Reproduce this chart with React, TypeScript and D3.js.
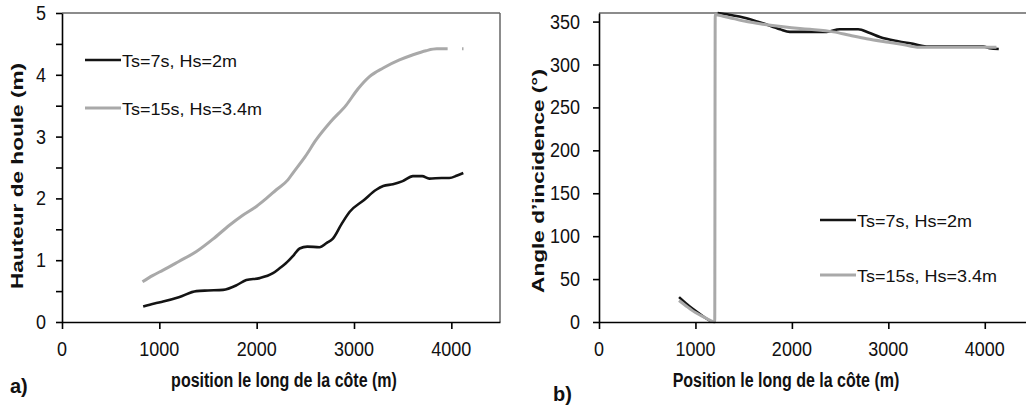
import React, { useEffect, useRef } from 'react';
import * as d3 from 'd3';

const W = 1026;
const H = 407;
const FONT = '"Liberation Sans", Arial, Helvetica, sans-serif';

const posTicks = [0, 1000, 2000, 3000, 4000];
const heightTicks = [0, 0.5, 1, 1.5, 2, 2.5, 3, 3.5, 4, 4.5, 5];
const heightLabels = [0, 1, 2, 3, 4, 5];
const angleTicks = [0, 50, 100, 150, 200, 250, 300, 350];

const legendNames = ['Ts=7s, Hs=2m', 'Ts=15s, Hs=3.4m'];

// a) hauteur de houle (m) le long de la côte
const height7s: [number, number | null][] = [
  [834, 0.25], [950, 0.3], [1039, 0.33], [1200, 0.4], [1381, 0.5], [1500, 0.51], [1655, 0.52],
  [1800, 0.6], [1894, 0.68], [2031, 0.71], [2167, 0.79], [2236, 0.87], [2300, 0.95], [2380, 1.08],
  [2441, 1.19], [2520, 1.22], [2646, 1.21], [2720, 1.28], [2783, 1.35], [2870, 1.58], [2954, 1.78],
  [3100, 1.97], [3228, 2.14], [3300, 2.2], [3400, 2.23], [3500, 2.28], [3605, 2.36], [3700, 2.36],
  [3774, 2.32], [3900, 2.33], [3979, 2.33], [4060, 2.37], [4123, 2.41],
];
const height15s: [number, number | null][] = [
  [827, 0.65], [930, 0.75], [1039, 0.84], [1200, 0.98], [1381, 1.14], [1550, 1.34], [1723, 1.57],
  [1850, 1.72], [1997, 1.87], [2100, 2.0], [2202, 2.14], [2321, 2.3], [2372, 2.41], [2500, 2.68],
  [2612, 2.95], [2760, 3.24], [2920, 3.51], [3040, 3.77], [3159, 3.97], [3300, 4.11], [3467, 4.24],
  [3600, 4.32], [3740, 4.39], [3850, 4.42], [3962, 4.42], [4040, null], [4110, 4.42], [4125, 4.42],
];

// b) angle d'incidence (°)
const angle7s: [number, number | null][] = [
  [830, 29], [900, 22], [1000, 13], [1100, 5], [1170, 0], [1200, null],
  [1230, 360], [1350, 358], [1530, 354], [1700, 348], [1876, 341], [1979, 338], [2083, 338],
  [2360, 338], [2497, 341], [2687, 341], [2800, 337], [2912, 332], [3100, 327], [3257, 324],
  [3396, 321], [3983, 321], [4052, 319], [4145, 318],
];
const angle15s: [number, number | null][] = [
  [830, 25], [900, 19], [1000, 11], [1100, 5], [1200, 0], [1205, 358], [1300, 356], [1530, 350],
  [1700, 347], [1910, 344], [2083, 342], [2187, 341], [2430, 338], [2600, 334], [2775, 330],
  [3000, 326], [3119, 324], [3326, 320], [3983, 320], [4121, 320],
];

const addText = (g, x, y, str, o: any = {}) =>
  g.append('text')
    .attr('transform', o.rotate
      ? `translate(${x},${y}) rotate(-90) scale(${o.s || 1},1)`
      : `translate(${x},${y}) scale(1,${o.s || 1})`)
    .attr('text-anchor', o.anchor || 'start')
    .attr('font-family', FONT)
    .attr('font-size', o.size || 18)
    .attr('font-weight', o.bold ? 'bold' : 'normal')
    .attr('fill', '#111')
    .text(str);

const drawPanel = (svg, p) => {
  const x = d3.scaleLinear().domain([0, 4500]).range([p.left, p.right]);
  const y = d3.scaleLinear().domain([0, p.yMax]).range([322, 13]);
  const g = svg.append('g');

  g.append('line').attr('x1', p.left).attr('x2', x(4500)).attr('y1', 13).attr('y2', 13)
    .attr('stroke', '#666').attr('stroke-width', 1.5);
  g.append('line').attr('x1', x(4500)).attr('x2', x(4500)).attr('y1', 13).attr('y2', 322)
    .attr('stroke', '#666').attr('stroke-width', 1.5);

  const line = d3.line<[number, number | null]>()
    .defined((d) => d[1] != null)
    .x((d) => x(d[0]))
    .y((d) => y(d[1] as number))
    .curve(d3.curveMonotoneX);

  p.series.forEach((s) => {
    g.append('path').datum(s.data).attr('d', line).attr('fill', 'none')
      .attr('stroke', s.color).attr('stroke-width', s.width).attr('stroke-linejoin', 'round');
  });

  const xa = g.append('g').attr('transform', 'translate(0,322)')
    .call(d3.axisBottom(x).tickValues(posTicks).tickSize(7).tickSizeOuter(0).tickFormat(() => ''));
  const ya = g.append('g').attr('transform', `translate(${p.left},0)`)
    .call(d3.axisLeft(y).tickValues(p.yTicks).tickSize(6).tickSizeOuter(0).tickFormat(() => ''));
  [xa, ya].forEach((a) => {
    a.select('.domain').attr('stroke', '#000').attr('stroke-width', 1.6);
    a.selectAll('.tick line').attr('stroke', '#000').attr('stroke-width', 1.6);
  });

  posTicks.forEach((v) => addText(g, x(v), 356, String(v), { anchor: 'middle', size: 18, s: 1.12 }));
  p.yLabels.forEach((v) => addText(g, p.left - p.labelGap, y(v) + 7, String(v), { anchor: 'end', size: 18, s: 1.12 }));

  addText(g, p.titleX, 387, p.xTitle, { anchor: 'middle', size: 16, bold: true, s: 1.25 });
  addText(g, p.yTitleX, p.yTitleY, p.yTitle, { anchor: 'middle', size: 17, bold: true, s: 1.33, rotate: true });
  addText(g, p.tagX, p.tagY, p.tag, { size: 20, bold: true });

  p.series.forEach((s, i) => {
    const ly = p.legendY[i];
    g.append('line').attr('x1', p.legendX).attr('x2', p.legendX + 36).attr('y1', ly).attr('y2', ly)
      .attr('stroke', s.color).attr('stroke-width', s.width);
    addText(g, p.legendX + 37, ly + 6.5, legendNames[i], { size: 18, s: 0.95 });
  });
};

const App = () => {
  const ref = useRef<SVGSVGElement>(null);

  useEffect(() => {
    const svg = d3.select(ref.current);
    svg.selectAll('*').remove();
    svg.append('rect').attr('width', W).attr('height', H).attr('fill', '#fff');

    drawPanel(svg, {
      left: 62, right: 500, yMax: 5, yTicks: heightTicks, yLabels: heightLabels, labelGap: 16,
      xTitle: 'position le long de la côte (m)', titleX: 284,
      yTitle: 'Hauteur de houle (m)', yTitleX: 23, yTitleY: 176,
      tag: 'a)', tagX: 10, tagY: 393,
      legendX: 85, legendY: [60, 108],
      series: [
        { data: height7s, color: '#141414', width: 2.6 },
        { data: height15s, color: '#a9a9a9', width: 3 },
      ],
    });

    drawPanel(svg, {
      left: 599, right: 1033, yMax: 360, yTicks: angleTicks, yLabels: angleTicks, labelGap: 19,
      xTitle: 'Position le long de la côte (m)', titleX: 786,
      yTitle: "Angle d’incidence (°)", yTitleX: 544, yTitleY: 181,
      tag: 'b)', tagX: 553, tagY: 401,
      legendX: 820, legendY: [220, 275],
      series: [
        { data: angle7s, color: '#141414', width: 2.6 },
        { data: angle15s, color: '#a9a9a9', width: 3 },
      ],
    });
  }, []);

  return (
    <svg ref={ref} width={W} height={H}
      style={{ position: 'absolute', left: 0, top: 0, display: 'block' }} />
  );
};

export default App;
